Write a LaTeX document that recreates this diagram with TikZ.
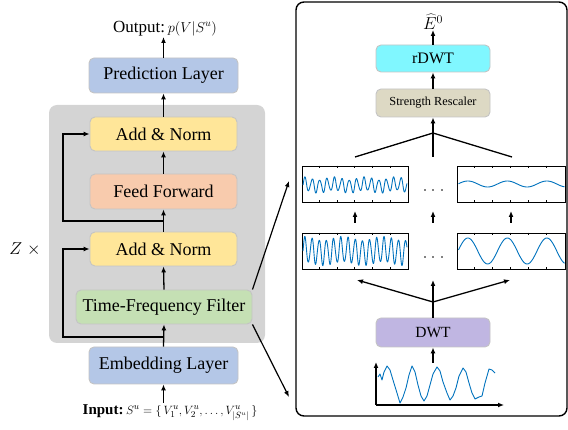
\documentclass[tikz,border=0pt]{standalone}
\usepackage{fontspec}
\setmainfont{Liberation Serif}
\usetikzlibrary{arrows.meta}
\definecolor{predc}{HTML}{B4C7E7}
\definecolor{addc}{HTML}{FFE699}
\definecolor{ffc}{HTML}{F8CBAD}
\definecolor{tffc}{HTML}{C5E0B4}
\definecolor{grayc}{HTML}{D4D4D4}
\definecolor{rdwtc}{HTML}{80F7FF}
\definecolor{src}{HTML}{DDD9C4}
\definecolor{dwtc}{HTML}{C0B6E2}
\definecolor{boxline}{HTML}{C4C4C4}
\definecolor{wavec}{HTML}{0072BD}
\begin{document}
\begin{tikzpicture}[x=1pt,y=-1pt,
  blk/.style={rounded corners=5pt, draw=boxline, line width=0.9pt, minimum width=147pt, minimum height=34pt, inner sep=0pt, font=\fontsize{18}{20}\selectfont},
  rblk/.style={rounded corners=5pt, draw=boxline, line width=0.9pt, minimum width=114pt, minimum height=28pt, inner sep=0pt},
  arr/.style={-{Latex[length=6pt,width=5pt]}, line width=1.3pt},
  ln/.style={line width=1.3pt},
  wave/.style={draw=wavec, line width=0.9pt, line join=round},
  pbox/.style={draw, line width=0.9pt, minimum width=106pt, minimum height=36pt, inner sep=0pt}
]
\useasboundingbox (0,0) rectangle (568,430);
% ---------------- left part
\fill[grayc, rounded corners=8pt] (49,105) rectangle (265,343);
\node[blk, fill=predc, minimum width=149pt, minimum height=35pt] (pred) at (163.5,75.5) {Prediction Layer};
\node[blk, fill=addc] (an1) at (163.5,134) {Add \& Norm};
\node[blk, fill=ffc, minimum height=35pt] (ff) at (163.5,191.5) {Feed Forward};
\node[blk, fill=addc] (an2) at (163.5,249) {Add \& Norm};
\node[blk, fill=tffc, minimum width=176pt] (tff) at (164,307) {Time-Frequency Filter};
\node[blk, fill=predc, minimum width=149pt, minimum height=37pt] (emb) at (163.5,365.5) {Embedding Layer};
\node[anchor=south, inner sep=1pt] (out) at (165,37) {\fontsize{17}{19}\selectfont Output:\,\fontsize{14}{16}\selectfont$p(V|S^u)$};
\node[anchor=north, inner sep=1pt] (inp) at (170,403) {\fontsize{15}{17}\selectfont\textbf{Input:}\,\fontsize{12.5}{14}\selectfont$S^u=\{\,V_1^u,V_2^u,\dots,V^u_{|S^u|}\,\}$};
\node (zx) at (25,249) {\fontsize{18}{20}\selectfont$Z\;\times$};
\draw[arr] (emb.south |- inp.north) -- (emb.south);
\draw[arr] (emb.north) -- (tff.south);
\draw[arr] (tff.north) -- (an2.south);
\draw[arr] (an2.north) -- (ff.south);
\draw[arr] (ff.north) -- (an1.south);
\draw[arr] (an1.north) -- (pred.south);
\draw[arr] (pred.north) -- (out.south -| pred.north);
\coordinate (r1) at (163.5,221);
\coordinate (r2) at (163.5,337);
\draw[arr] (r1) -- (63,221) |- (an1.west);
\draw[arr] (r2) -- (63,337) |- (an2.west);
% links to the right panel
\coordinate (p1) at (289,181);
\coordinate (p2) at (289,397);
\draw[arr, line width=1.2pt] (tff.north east) -- (p1);
\draw[arr, line width=1.2pt] (tff.south east) -- (p2);
% ---------------- right panel
\draw[line width=1.4pt, rounded corners=8pt] (296,2) rectangle (567,416);
\node[anchor=south, inner sep=0.5pt] (eh) at (433,30) {\fontsize{18}{20}\selectfont$\widehat{E}^0$};
\node[rblk, fill=rdwtc, minimum height=27pt, font=\fontsize{16}{18}\selectfont] (rdwt) at (433,58.5) {rDWT};
\node[rblk, fill=src, font=\fontsize{12.3}{14}\selectfont] (sr) at (433,103) {Strength Rescaler};
\node[rblk, fill=dwtc, minimum height=29pt, font=\fontsize{15.5}{17}\selectfont] (dwt) at (433,332.5) {DWT};
\draw[arr] (rdwt.north) -- (eh.south);
\draw[arr] (sr.north) -- (rdwt.south);
% upper fork
\coordinate (fa) at (433,133);
\coordinate (fl) at (355,157);
\coordinate (fr) at (512,157);
\coordinate (fc) at (433,157);
\draw[ln] (fl) -- (fa) -- (fr);
\draw[arr] (fc) -- (sr.south);
% plot boxes
\node[pbox] (ul) at (355,184) {};
\node[pbox, minimum width=108pt] (ur) at (511,184) {};
\node[pbox] (ll) at (355,251) {};
\node[pbox, minimum width=108pt] (lr) at (511,251) {};
\foreach \b/\w in {ul/106,ur/108,ll/106,lr/108}{
  \foreach \i in {1,...,5}{
    \draw[line width=0.5pt] ([xshift=\i*\w/6*1pt]\b.north west) -- ++(0,2.5);
    \draw[line width=0.5pt] ([xshift=\i*\w/6*1pt]\b.south west) -- ++(0,-2.5);
  }
}
% waves
\draw[wave] plot[domain=0:104, samples=320, smooth] ({\x+303}, {185 - (6.5+1.8*sin(37*\x))*sin(48.65*\x)});
\draw[wave] plot[domain=0:104, samples=320, smooth] ({\x+303}, {251 - (12.5+2.2*sin(41*\x))*sin(50*\x)});
\draw[wave] plot[domain=0.5:106.5, samples=120, smooth] ({\x+458}, {184 - 3*sin(9.114*\x)});
\draw[wave] plot[domain=0.5:106.5, samples=120, smooth] ({\x+458}, {251 - 13*sin(9.114*\x)});
% dots
\foreach \yy in {190,257}{
  \foreach \xx in {425,433,442}{ \fill (\xx,\yy) circle (0.9pt); }
}
% arrows between rows
\foreach \xx in {355,433,511}{
  \coordinate (a\xx) at (\xx,223);
  \coordinate (b\xx) at (\xx,211);
  \draw[arr] (a\xx) -- (b\xx);
}
% lower fork
\coordinate (ga) at (433,302);
\coordinate (gl) at (357,280);
\coordinate (gr) at (510,280);
\coordinate (gc) at (433,280);
\draw[arr] (ga) -- (gl);
\draw[arr] (ga) -- (gr);
\draw[arr] (dwt.north) -- (gc);
% signal plot
\coordinate (o) at (376,405);
\coordinate (ya) at (376,362);
\coordinate (xa) at (504,405);
\coordinate (st) at (433,363);
\draw[arr] (st) -- (dwt.south);
\draw[-{Latex[length=6pt,width=5pt]}, line width=1.4pt] (o) -- (ya);
\draw[-{Latex[length=6pt,width=5pt]}, line width=1.4pt] (o) -- (xa);
\draw[wave] plot coordinates {(378,377) (380,374) (382,380) (384,372) (387,366) (390,370) (393,380) (397,393) (400,403) (403,397) (406,388) (409,375) (412,366) (415,372) (418,385) (421,396) (424,401) (427,396) (430,385) (433,374) (437,367) (440,371) (443,382) (447,393) (450,400) (453,396) (456,388) (459,376) (463,368) (466,372) (469,383) (472,393) (475,399) (479,397) (482,396) (485,383) (489,369) (492,370) (495,373)};
\end{tikzpicture}
\end{document}
